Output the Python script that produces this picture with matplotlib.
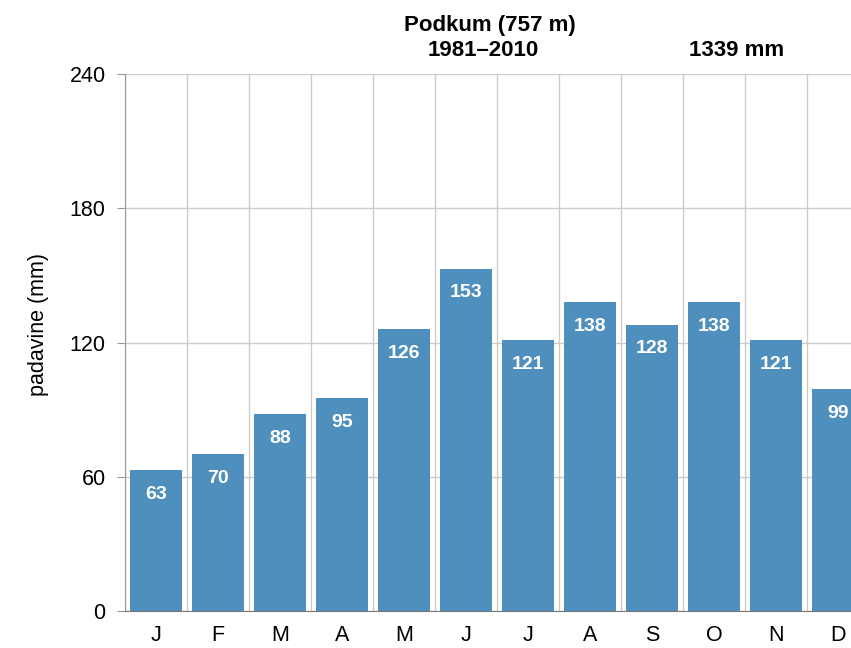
import matplotlib.pyplot as plt
import numpy as np

plt.rcParams['font.family'] = ['Liberation Sans', 'DejaVu Sans']

# Monthly precipitation, Podkum 1981-2010
months = ['J', 'F', 'M', 'A', 'M', 'J', 'J', 'A', 'S', 'O', 'N', 'D']
precip = [63, 70, 88, 95, 126, 153, 121, 138, 128, 138, 121, 99]
yticks = [0, 60, 120, 180, 240]

bar_color = '#4f8fbe'
grid_color = '#cccccc'

fig = plt.figure(figsize=(8.51, 6.48), dpi=100)
ax = fig.add_axes([0.1469, 0.0571, 0.8743, 0.8287])

x = np.arange(len(months))
ax.bar(x, precip, width=0.84, color=bar_color, zorder=3)

for xi, v in zip(x, precip):
    ax.text(xi, v - 7, str(v), ha='center', va='top', color='white',
            fontsize=14, fontweight='bold', zorder=4)

ax.set_xlim(-0.5, len(months) - 0.5)
ax.set_ylim(0, 240)
ax.set_yticks(yticks)
ax.set_xticks(x)
ax.set_xticklabels(months)

# vertical separators between months
for b in np.arange(-0.5, len(months), 1.0):
    ax.axvline(b, color=grid_color, lw=1, zorder=1)
ax.yaxis.grid(True, color=grid_color, lw=1, zorder=1)
ax.set_axisbelow(True)

for s in ['top', 'right']:
    ax.spines[s].set_visible(False)
ax.spines['left'].set_color('#999999')
ax.spines['bottom'].set_color('#777777')
ax.tick_params(axis='y', length=6, color='#999999', labelsize=15.5, pad=8)
ax.tick_params(axis='x', length=0, labelsize=15.5, pad=10)

ax.set_ylabel('padavine (mm)', fontsize=15.5, labelpad=15)
ax.yaxis.label.set_y(0.534)

fig.text(0.576, 0.9614, 'Podkum (757 m)', ha='center', va='center',
         fontsize=16, fontweight='bold')
fig.text(0.5676, 0.9228, '1981–2010', ha='center', va='center',
         fontsize=16, fontweight='bold')
fig.text(0.866, 0.9228, '1339 mm', ha='center', va='center',
         fontsize=16, fontweight='bold')

fig.savefig('out.png', dpi=100)
